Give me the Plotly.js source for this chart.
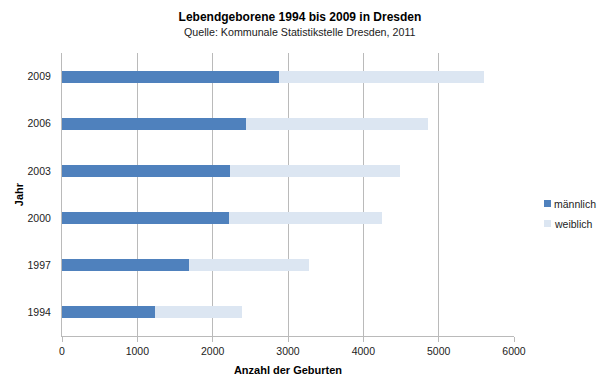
<!DOCTYPE html>
<html>
<head>
<meta charset="utf-8">
<script src="https://cdn.plot.ly/plotly-3.0.1.min.js"></script>
<style>html,body{margin:0;padding:0;background:#fff;}#chart{width:600px;height:385px;}</style>
</head>
<body>
<div id="chart"></div>
<script>
const years = ['1994', '1997', '2000', '2003', '2006', '2009'];
const maennlich = [1230, 1686, 2212, 2235, 2447, 2877];
const weiblich = [1159, 1588, 2032, 2247, 2407, 2729];
const seriesNames = ['männlich', 'weiblich'];
const seriesColors = ['#4F81BD', '#DCE6F2'];
const xTicks = [0, 1000, 2000, 3000, 4000, 5000, 6000];

const FONT = '"Liberation Sans", Arial, sans-serif';

const traces = [
  {type: 'bar', orientation: 'h', y: years, x: maennlich, name: seriesNames[0],
   marker: {color: seriesColors[0], line: {width: 0}}, hoverinfo: 'x+y+name'},
  {type: 'bar', orientation: 'h', y: years, x: weiblich, name: seriesNames[1],
   marker: {color: seriesColors[1], line: {width: 0}}, hoverinfo: 'x+y+name'}
];

// plot area in pixels: x 62..514, y 53..336
const PL = 62, PW = 452, PT = 53, PH = 283;
const px = v => (v - PL) / PW;
const py = v => 1 - (v - PT) / PH;

// simple legend (square + label) to the right of the plot
const legendShapes = [], legendNotes = [];
seriesNames.forEach((name, i) => {
  const cy = 203.5 + i * 20;
  legendShapes.push({
    type: 'rect', xref: 'paper', yref: 'paper',
    x0: px(544), x1: px(551), y0: py(cy - 3.5), y1: py(cy + 3.5),
    fillcolor: seriesColors[i], line: {width: 0}
  });
  legendNotes.push({
    text: name, xref: 'paper', yref: 'paper', showarrow: false,
    x: px(552), xanchor: 'left', y: py(cy), yanchor: 'middle',
    font: {family: FONT, size: 10.5, color: '#222'}
  });
});

const layout = {
  width: 600, height: 385,
  margin: {l: 62, r: 86, t: 53, b: 49, autoexpand: false},
  paper_bgcolor: '#fff', plot_bgcolor: '#fff',
  font: {family: FONT, size: 10.5, color: '#222'},
  barmode: 'stack',
  bargap: 0.746,
  showlegend: false,
  title: {
    text: '<b>Lebendgeborene 1994 bis 2009 in Dresden</b>',
    font: {family: FONT, size: 12, color: '#000'},
    x: 0.5, xref: 'container', xanchor: 'center',
    y: 1 - 17/385, yref: 'container', yanchor: 'middle'
  },
  shapes: legendShapes,
  annotations: [{
    text: 'Quelle: Kommunale Statistikstelle Dresden, 2011',
    xref: 'paper', yref: 'paper', showarrow: false,
    x: px(300), xanchor: 'center',
    y: py(32), yanchor: 'middle',
    font: {family: FONT, size: 10.7, color: '#222'}
  }].concat(legendNotes),
  xaxis: {
    range: [0, 6000], tickvals: xTicks, ticktext: xTicks.map(String),
    showgrid: true, gridcolor: '#BABABA', gridwidth: 1,
    zeroline: false, showline: true, linecolor: '#BABABA', linewidth: 1,
    ticks: 'outside', ticklen: 5, tickcolor: '#BABABA',
    tickfont: {family: FONT, size: 10.5, color: '#222'},
    title: {text: '<b>Anzahl der Geburten</b>', font: {family: FONT, size: 11, color: '#000'}, standoff: 10},
    automargin: false,
    fixedrange: true
  },
  yaxis: {
    type: 'category', categoryorder: 'array', categoryarray: years,
    showgrid: false, zeroline: false, showline: true, linecolor: '#BABABA', linewidth: 1,
    ticks: '', ticklabelstandoff: 8,
    tickfont: {family: FONT, size: 10.5, color: '#222'},
    title: {text: '<b>Jahr</b>', font: {family: FONT, size: 11, color: '#000'}, standoff: 1},
    automargin: false,
    fixedrange: true
  }
};

Plotly.newPlot('chart', traces, layout, {displayModeBar: false, staticPlot: true});
</script>
</body>
</html>
